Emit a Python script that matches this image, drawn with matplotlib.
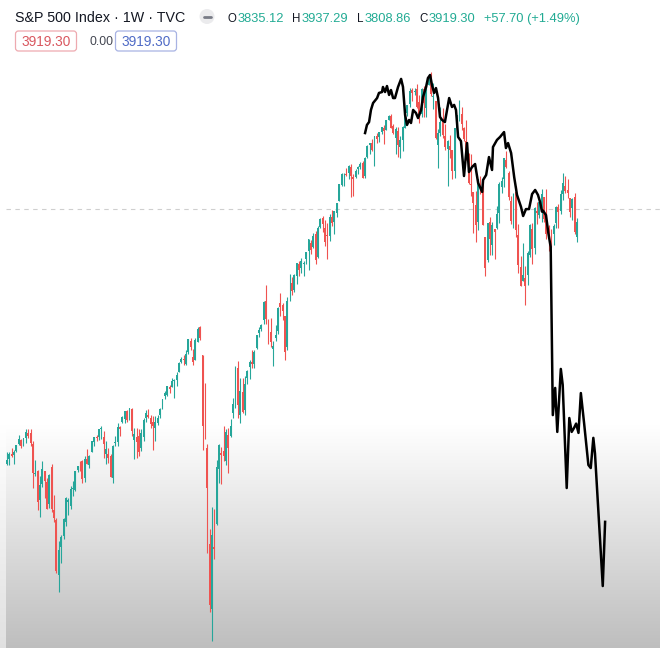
import numpy as np
import matplotlib
matplotlib.use('Agg')
import matplotlib.pyplot as plt
from matplotlib.patches import FancyBboxPatch, Circle

# Weekly S&P 500 candles, week of Jul 23 2018 -> week of Mar 13 2023
opens = [2802, 2821, 2840, 2835, 2852, 2880, 2897, 2880, 2903, 2926,
         2926, 2882, 2764, 2773, 2667, 2726, 2773, 2731, 2649, 2790,
         2630, 2591, 2401, 2498, 2535, 2586, 2657, 2644, 2707, 2702,
         2780, 2805, 2814, 2748, 2823, 2796, 2848, 2888, 2909, 2908,
         2941, 2909, 2841, 2841, 2831, 2749, 2885, 2889, 2951, 2971,
         2980, 3017, 2981, 3024, 2898, 2910, 2913, 2866, 2910, 2988,
         2997, 2984, 2968, 2945, 2965, 2997, 3035, 3079, 3081, 3118,
         3118, 3144, 3147, 3183, 3227, 3240, 3218, 3271, 3323, 3248,
         3236, 3318, 3388, 3257, 2974, 2863, 2509, 2291, 2498, 2579,
         2782, 2845, 2854, 2815, 2915, 2913, 3005, 3038, 3200, 3000,
         3095, 3018, 3155, 3205, 3225, 3219, 3289, 3357, 3380, 3419,
         3509, 3370, 3364, 3285, 3334, 3368, 3500, 3493, 3441, 3296,
         3583, 3600, 3566, 3635, 3694, 3675, 3694, 3723, 3764, 3803,
         3782, 3855, 3732, 3892, 3939, 3885, 3843, 3844, 3943, 3916,
         3969, 4035, 4125, 4179, 4185, 4192, 4229, 4169, 4170, 4216,
         4229, 4248, 4174, 4285, 4356, 4373, 4297, 4410, 4407, 4438,
         4462, 4450, 4514, 4536, 4474, 4403, 4442, 4348, 4386, 4464,
         4553, 4610, 4701, 4689, 4712, 4628, 4548, 4710, 4588, 4733,
         4778, 4655, 4632, 4357, 4431, 4506, 4412, 4333, 4354, 4328,
         4202, 4462, 4541, 4547, 4462, 4385, 4256, 4131, 4081, 4013,
         3920, 4152, 4134, 3838, 3716, 3920, 3793, 3880, 3883, 3966,
         4113, 4156, 4270, 4195, 4034, 3910, 4084, 3849, 3682, 3610,
         3624, 3638, 3741, 3881, 3780, 3978, 3956, 4006, 4053, 3940,
         3854, 3843, 3853, 3910, 3999, 3979, 4071, 4120, 4096, 4052,
         3992, 4055, 3835]
highs = [2848, 2848, 2863, 2855, 2877, 2916, 2900, 2906, 2941, 2939,
         2940, 2894, 2817, 2779, 2756, 2815, 2775, 2747, 2762, 2800,
         2685, 2601, 2520, 2539, 2598, 2675, 2673, 2716, 2738, 2776,
         2795, 2814, 2817, 2831, 2861, 2836, 2894, 2910, 2918, 2940,
         2954, 2932, 2892, 2865, 2841, 2876, 2911, 2964, 2955, 2996,
         3017, 3020, 3028, 3027, 2945, 2943, 2939, 2940, 2985, 3021,
         3022, 2999, 2993, 2993, 3000, 3027, 3067, 3098, 3121, 3127,
         3154, 3150, 3183, 3226, 3248, 3259, 3282, 3330, 3338, 3285,
         3337, 3385, 3394, 3260, 3136, 2882, 2562, 2641, 2632, 2819,
         2880, 2868, 2954, 2939, 2945, 2980, 3068, 3211, 3233, 3156,
         3155, 3166, 3191, 3236, 3280, 3279, 3352, 3387, 3399, 3509,
         3588, 3425, 3429, 3320, 3398, 3480, 3550, 3502, 3441, 3529,
         3646, 3628, 3645, 3699, 3712, 3726, 3712, 3760, 3827, 3823,
         3860, 3870, 3894, 3937, 3950, 3929, 3914, 3960, 3983, 3978,
         4021, 4130, 4191, 4195, 4219, 4238, 4245, 4187, 4214, 4234,
         4255, 4262, 4287, 4356, 4372, 4394, 4415, 4430, 4440, 4469,
         4480, 4514, 4546, 4549, 4485, 4466, 4466, 4412, 4475, 4560,
         4608, 4718, 4714, 4718, 4744, 4672, 4713, 4732, 4740, 4808,
         4819, 4749, 4632, 4454, 4595, 4590, 4489, 4386, 4416, 4329,
         4465, 4546, 4637, 4593, 4471, 4513, 4309, 4307, 4082, 4091,
         4159, 4177, 4168, 3838, 3914, 3946, 3919, 3880, 4005, 4140,
         4168, 4281, 4325, 4203, 4062, 4076, 4120, 3907, 3736, 3807,
         3685, 3762, 3906, 3912, 4002, 4028, 4034, 4101, 4053, 4101,
         3903, 3878, 3906, 4003, 4016, 4095, 4195, 4176, 4159, 4052,
         4049, 4079, 3937]
lows = [2796, 2796, 2830, 2802, 2850, 2876, 2864, 2874, 2886, 2903,
        2874, 2710, 2755, 2628, 2604, 2715, 2671, 2631, 2636, 2621,
        2584, 2409, 2347, 2443, 2524, 2571, 2612, 2631, 2682, 2698,
        2771, 2775, 2729, 2732, 2800, 2785, 2848, 2873, 2892, 2898,
        2900, 2825, 2801, 2806, 2750, 2729, 2871, 2874, 2912, 2964,
        2966, 2970, 2976, 2914, 2822, 2825, 2834, 2853, 2891, 2969,
        2985, 2946, 2856, 2892, 2957, 2987, 3023, 3067, 3078, 3091,
        3117, 3070, 3123, 3183, 3222, 3213, 3214, 3264, 3280, 3214,
        3235, 3316, 3328, 2855, 2900, 2478, 2281, 2192, 2455, 2575,
        2729, 2727, 2815, 2798, 2766, 2909, 2984, 3026, 2984, 2965,
        3005, 2999, 3128, 3150, 3201, 3200, 3284, 3342, 3369, 3403,
        3403, 3310, 3293, 3209, 3323, 3354, 3441, 3419, 3234, 3279,
        3512, 3543, 3553, 3594, 3633, 3648, 3636, 3697, 3663, 3750,
        3778, 3694, 3726, 3884, 3865, 3789, 3723, 3818, 3898, 3853,
        3944, 4034, 4119, 4118, 4173, 4160, 4057, 4062, 4164, 4189,
        4215, 4165, 4164, 4282, 4304, 4321, 4234, 4372, 4375, 4424,
        4367, 4450, 4514, 4459, 4423, 4306, 4289, 4279, 4324, 4459,
        4537, 4595, 4630, 4672, 4585, 4495, 4532, 4532, 4532, 4733,
        4662, 4582, 4395, 4223, 4414, 4401, 4327, 4115, 4279, 4157,
        4162, 4424, 4506, 4450, 4381, 4268, 4129, 4063, 3859, 3811,
        3876, 4074, 3900, 3637, 3705, 3741, 3742, 3722, 3882, 3913,
        4080, 4112, 4219, 4037, 3907, 3887, 3838, 3648, 3584, 3610,
        3492, 3591, 3730, 3698, 3750, 3906, 3940, 3919, 3919, 3828,
        3765, 3783, 3795, 3883, 3886, 3962, 4038, 4079, 4049, 3944,
        3929, 3855, 3809]
closes = [2819, 2840, 2833, 2850, 2875, 2902, 2872, 2905, 2930, 2914,
          2886, 2767, 2768, 2659, 2723, 2781, 2736, 2633, 2760, 2633,
          2600, 2417, 2486, 2532, 2596, 2671, 2665, 2707, 2708, 2776,
          2793, 2804, 2743, 2822, 2801, 2834, 2893, 2907, 2905, 2940,
          2946, 2881, 2860, 2826, 2752, 2873, 2887, 2950, 2942, 2990,
          3014, 2977, 3026, 2932, 2919, 2889, 2847, 2926, 2979, 3007,
          2992, 2962, 2952, 2970, 2986, 3023, 3067, 3093, 3120, 3110,
          3141, 3146, 3169, 3221, 3240, 3235, 3265, 3330, 3295, 3226,
          3328, 3380, 3338, 2954, 2972, 2711, 2305, 2541, 2489, 2790,
          2875, 2837, 2831, 2930, 2864, 2955, 3044, 3194, 3041, 3098,
          3009, 3130, 3185, 3225, 3216, 3271, 3351, 3373, 3397, 3508,
          3427, 3341, 3319, 3298, 3348, 3477, 3484, 3465, 3270, 3509,
          3585, 3558, 3638, 3699, 3663, 3709, 3703, 3756, 3825, 3768,
          3841, 3714, 3887, 3935, 3907, 3811, 3842, 3943, 3913, 3975,
          4020, 4129, 4185, 4180, 4181, 4233, 4174, 4156, 4204, 4230,
          4247, 4166, 4281, 4352, 4370, 4327, 4412, 4395, 4437, 4468,
          4442, 4509, 4535, 4459, 4433, 4455, 4357, 4391, 4471, 4545,
          4605, 4698, 4683, 4698, 4595, 4538, 4712, 4621, 4726, 4766,
          4677, 4663, 4398, 4432, 4501, 4419, 4349, 4385, 4329, 4204,
          4463, 4543, 4546, 4488, 4393, 4272, 4132, 4123, 4024, 3901,
          4158, 4109, 3901, 3675, 3912, 3825, 3899, 3863, 3962, 4130,
          4145, 4280, 4228, 4058, 3924, 4067, 3873, 3693, 3586, 3640,
          3583, 3753, 3901, 3771, 3993, 3965, 4026, 4072, 3934, 3852,
          3845, 3840, 3895, 3999, 3973, 4071, 4136, 4090, 4079, 3970,
          4046, 3862, 3919]

# black analog path drawn over the candles (week index, price)
ghost_week = [152.0, 152.8, 153.7, 154.5, 155.4, 157.1, 157.9, 159.2, 159.6, 160.5,
              161.3, 162.2, 163.0, 163.9, 164.7, 166.0, 167.3, 168.1, 169.0, 169.8,
              170.7, 171.5, 172.4, 173.6, 174.5, 175.8, 176.6, 177.9, 178.7, 179.6,
              180.4, 181.3, 182.1, 183.0, 183.8, 184.7, 185.9, 186.8, 187.7, 188.9,
              189.8, 190.6, 191.5, 192.7, 194.0, 195.3, 196.1, 197.4, 198.7, 200.0,
              201.7, 202.1, 203.4, 204.6, 205.9, 206.3, 208.0, 209.3, 211.0, 211.8,
              212.7, 214.0, 215.3, 216.5, 218.2, 219.1, 220.3, 221.6, 222.9, 224.2,
              225.4, 226.3, 227.1, 227.5, 228.8, 229.8, 230.8, 231.7, 232.7, 233.6,
              235.1, 235.9, 237.6, 238.7, 239.7, 240.7, 241.6, 242.6, 243.6, 245.0,
              246.8, 247.8, 248.9, 249.6, 252.9, 253.9]
ghost_price = [4431, 4481, 4499, 4575, 4619, 4651, 4684, 4690, 4723, 4690,
               4729, 4671, 4703, 4651, 4651, 4723, 4776, 4723, 4543, 4481,
               4512, 4493, 4575, 4556, 4524, 4575, 4658, 4723, 4782, 4802,
               4736, 4684, 4716, 4651, 4531, 4512, 4499, 4575, 4651, 4594,
               4607, 4575, 4407, 4382, 4175, 4370, 4198, 4227, 4245, 4135,
               4084, 4152, 4181, 4286, 4210, 4346, 4389, 4407, 4437, 4340,
               4370, 4310, 4169, 4067, 4000, 3950, 3988, 3988, 4072, 4095,
               4067, 4027, 3974, 3980, 3955, 3858, 3784, 2998, 3113, 2929,
               3196, 3126, 2710, 2986, 2929, 2945, 2963, 2925, 3091, 2963,
               2798, 2786, 2905, 2843, 2366, 2586]

price_line = 3988

header_title = 'S&P 500 Index · 1W · TVC'
ohlc_keys = ['O', 'H', 'L', 'C']
ohlc_vals = ['3835.12', '3937.29', '3808.86', '3919.30']
change_txt = '+57.70 (+1.49%)'

plt.rcParams['font.family'] = ['Liberation Sans', 'DejaVu Sans']

W, H = 660, 648
fig = plt.figure(figsize=(W / 100, H / 100), dpi=100)

# background layer in pixel coordinates (gradient + legend header)
bg = fig.add_axes([0, 0, 1, 1])
rows = np.arange(H)
shade = np.clip(1 - (rows - 425) / (H - 425) * 0.255, 0.745, 1.0)
strip = np.clip(1 - (rows - 425) / (H - 425) * 0.12, 0.88, 1.0)
bg.imshow(np.repeat(shade[:, None, None], 3, axis=2), extent=(6, W, H, 0),
          aspect='auto', interpolation='bilinear')
bg.imshow(np.repeat(strip[:, None, None], 3, axis=2), extent=(0, 6, H, 0),
          aspect='auto', interpolation='bilinear')
bg.set_xlim(0, W)
bg.set_ylim(H, 0)
bg.axis('off')

bg.text(15, 22, header_title, fontsize=10.3, color='#131722', va='baseline')
bg.add_patch(Circle((207, 16.5), 7.5, color='#ebebed', lw=0))
bg.plot([203.5, 210.5], [16.5, 16.5], color='#787b86', lw=2, solid_capstyle='round')

key_x = [228, 292, 357, 419]
val_x = [238, 302, 365, 429]
for k, v, kx, vx in zip(ohlc_keys, ohlc_vals, key_x, val_x):
    bg.text(kx, 22, k, fontsize=8.3, color='#131722', va='baseline')
    bg.text(vx, 22, v, fontsize=9.3, color='#22ab94', va='baseline')
bg.text(484, 22, change_txt, fontsize=9.3, color='#22ab94', va='baseline')

bg.add_patch(FancyBboxPatch((15.5, 31), 61, 20, boxstyle='round,pad=0,rounding_size=3',
                            fc='white', ec='#eeaab0', lw=0.9))
bg.text(46, 41.5, '3919.30', fontsize=9.8, color='#d9575f', ha='center', va='center')
bg.text(89, 45, '0.00', fontsize=8.8, color='#434651', va='baseline')
bg.add_patch(FancyBboxPatch((115.5, 31), 61, 20, boxstyle='round,pad=0,rounding_size=3',
                            fc='white', ec='#a8b3e3', lw=0.9))
bg.text(146, 41.5, '3919.30', fontsize=9.8, color='#4f6bc6', ha='center', va='center')

# price pane
ax = fig.add_axes([6 / W, 0, 1 - 6 / W, 1])
ax.patch.set_alpha(0)
ax.set_yscale('log')
ax.set_ylim(2171.4, 5327.6)
ax.set_xlim(-0.42, 277.2)
ax.axis('off')

o = np.array(opens, dtype=float)
h = np.array(highs, dtype=float)
l = np.array(lows, dtype=float)
c = np.array(closes, dtype=float)
x = np.arange(len(c))
cols = np.where(c >= o, '#26a69a', '#ef5350')

ax.axhline(price_line, color='#cfcfcf', lw=0.8, ls=(0, (4, 4)), zorder=1)
ax.vlines(x, l, h, colors=cols, lw=0.8, zorder=2)
ax.bar(x, np.maximum(np.abs(c - o), 3), bottom=np.minimum(o, c), width=0.82,
       color=cols, linewidth=0, zorder=3)
ax.plot(ghost_week, ghost_price, color='black', lw=1.8, solid_joinstyle='round', zorder=4)

fig.savefig('out.png', dpi=100)
